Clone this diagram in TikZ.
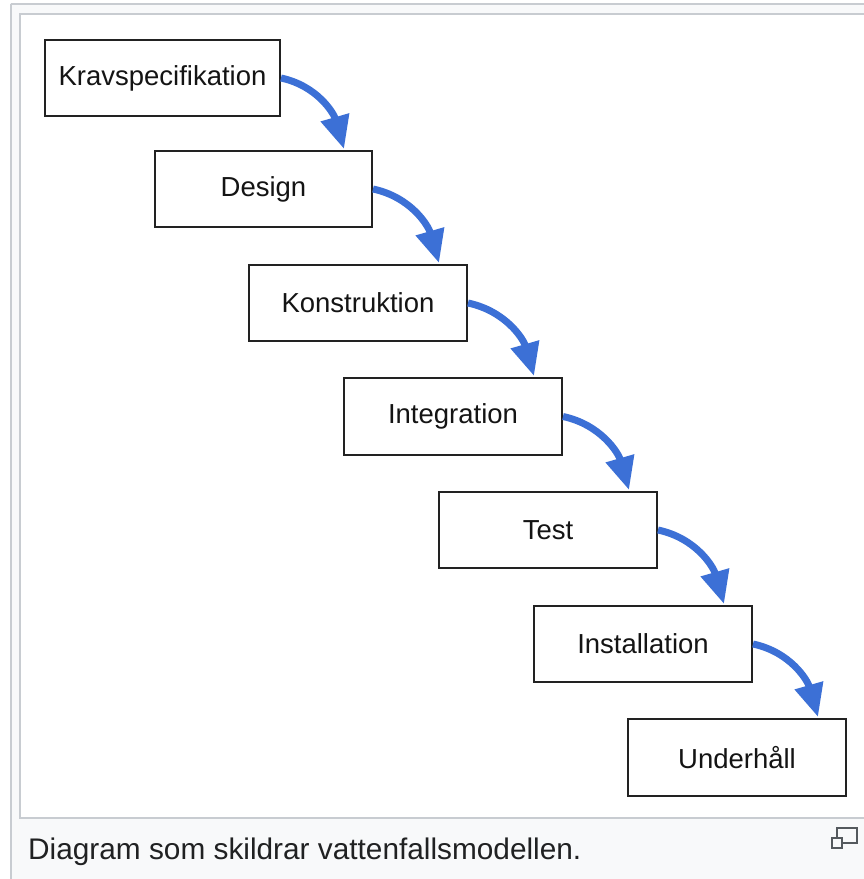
\documentclass[tikz,border=0pt]{standalone}
\usepackage{fontspec}
\setmainfont{Liberation Sans}
\usetikzlibrary{arrows.meta}
\definecolor{frameline}{HTML}{C8CCD1}
\definecolor{framebg}{HTML}{F8F9FA}
\definecolor{flowblue}{RGB}{60,112,214}
\definecolor{boxline}{HTML}{222222}
\definecolor{textdark}{HTML}{202122}
\definecolor{icongray}{HTML}{54595D}
\tikzset{
  stepbox/.style={draw=boxline, line width=2pt, fill=white, inner sep=0pt,
    text=black!92, font=\fontsize{27.5}{32}\selectfont},
  flow/.style={draw=flowblue, line width=7pt,
    -{Triangle[length=33pt,width=28pt]}},
}
\begin{document}
\begin{tikzpicture}[x=1pt,y=-1pt]
\useasboundingbox (0,0) rectangle (863,879);
% caption frame
\fill[framebg] (10,3) rectangle (875,890);
\draw[frameline, line width=2pt] (10.5,3.5) -- (875,3.5);
\draw[frameline, line width=2pt] (10.5,3.5) -- (10.5,890);
% image area
\fill[white] (19.5,13.5) rectangle (875,817.5);
\draw[frameline, line width=2pt] (875,13.5) -- (19.5,13.5) -- (19.5,817.5) -- (875,817.5);
% boxes
\node[stepbox, minimum width=235pt, minimum height=76pt] (k) at (162.5,78) {Kravspecifikation};
\node[stepbox, minimum width=217pt, minimum height=76pt] (d) at (263.5,189) {Design};
\node[stepbox, minimum width=218pt, minimum height=76pt] (ko) at (358,303) {Konstruktion};
\node[stepbox, minimum width=218pt, minimum height=77pt] (i) at (453,416.5) {Integration};
\node[stepbox, minimum width=218pt, minimum height=76pt] (t) at (548,530) {Test};
\node[stepbox, minimum width=218pt, minimum height=76pt] (in) at (643,644) {Installation};
\node[stepbox, minimum width=218pt, minimum height=77pt] (u) at (737,757.5) {Underhåll};
% arrows
\draw[flow] (k.east) to[out=-12,in=106] ([xshift=-29pt,yshift=1pt]d.north east);
\draw[flow] (d.east) to[out=-12,in=106] ([xshift=-29pt,yshift=1pt]ko.north east);
\draw[flow] (ko.east) to[out=-12,in=106] ([xshift=-29pt,yshift=1pt]i.north east);
\draw[flow] (i.east) to[out=-12,in=106] ([xshift=-29pt,yshift=1pt]t.north east);
\draw[flow] (t.east) to[out=-12,in=106] ([xshift=-29pt,yshift=1pt]in.north east);
\draw[flow] (in.east) to[out=-12,in=106] ([xshift=-29pt,yshift=1pt]u.north east);
% caption
\node[anchor=base west, inner sep=0pt, text=textdark, font=\fontsize{29.8}{35}\selectfont] (cap) at (28,859) {Diagram som skildrar vattenfallsmodellen.};
% enlarge icon
\draw[icongray, line width=2pt, fill=framebg] (837,828) rectangle (857,843);
\draw[icongray, line width=2pt, fill=framebg] (832,838) rectangle (842,848);
\end{tikzpicture}
\end{document}
